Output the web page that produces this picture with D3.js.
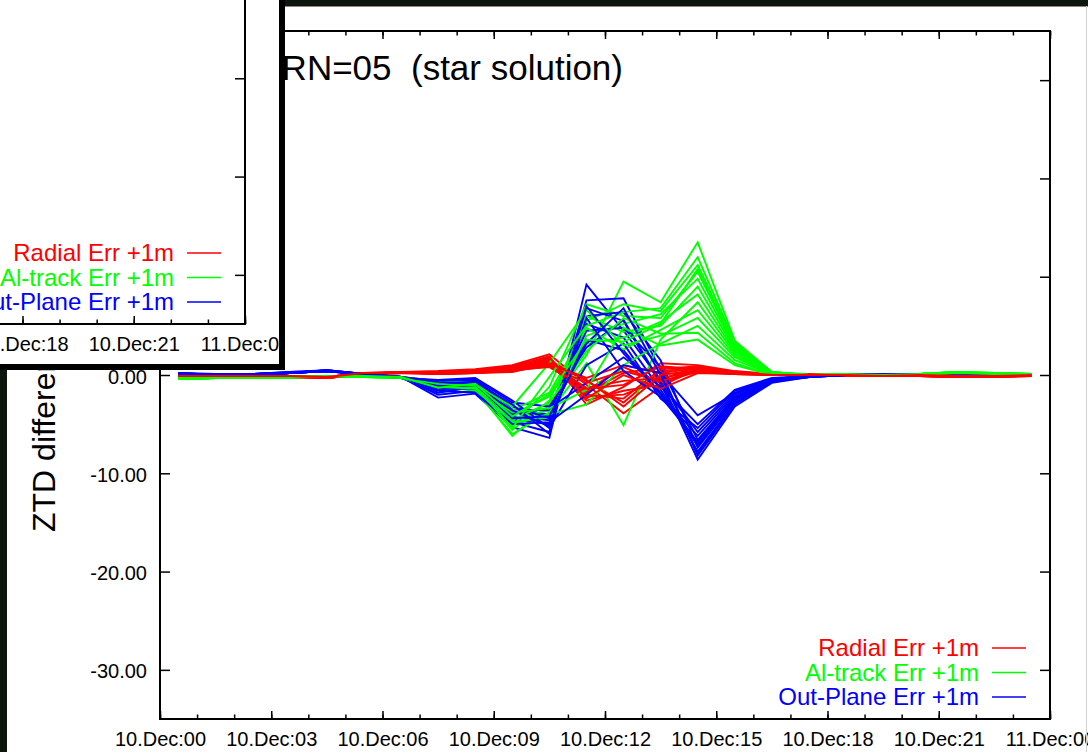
<!DOCTYPE html>
<html>
<head>
<meta charset="utf-8">
<script src="https://cdn.jsdelivr.net/npm/d3@7"></script>
<style>
  body { margin: 0; background: #fff; overflow: hidden; }
  svg { display: block; font-family: "Liberation Sans", Arial, sans-serif; }
</style>
</head>
<body>
<script>
// sample epochs (hours after 10.Dec 00:00)
const times = [0.5, 1.5, 2.5, 3.5, 4.5, 5.5, 6.5, 7.5, 8.5, 9.5, 10.5, 11.5,
               12.5, 13.5, 14.5, 15.5, 16.5, 17.5, 18.5, 19.5, 20.5, 21.5, 22.5, 23.5];

// axis ticks
const majorHours = [0, 3, 6, 9, 12, 15, 18, 21, 24];
const minorHours = [0, 1, 2, 3, 4, 5, 6, 7, 8, 9, 10, 11, 12, 13, 14, 15, 16, 17, 18, 19, 20, 21, 22, 23, 24];
const majorLabels = ['10.Dec:00', '10.Dec:03', '10.Dec:06', '10.Dec:09', '10.Dec:12',
                     '10.Dec:15', '10.Dec:18', '10.Dec:21', '11.Dec:00'];
const yTicks = [-30, -20, -10, 0, 10, 20, 30];

const legendLabels = ['Radial Err +1m', 'Al-track Err +1m', 'Out-Plane Err +1m'];
const legendColors = ['#ff0000', '#00ff00', '#0000ff'];

// ZTD differences, radial error runs
const radialRuns = [
  [-0.1,-0.1,-0.1,-0.2,-0.3,0.1,0.3, 0.4,0.6,1.0,2.1,-1.0,-3.9,-1.2,0.8,0.3,0.1, 0.0,0.0,-0.1,-0.1,-0.2,-0.2,-0.1],
  [-0.1,-0.1,-0.1,-0.1,-0.2,0.1,0.3, 0.3,0.5,0.9,1.9,-3.0,-1.2,1.2,1.0,0.4,0.1, 0.0,0.0,0.0,-0.1,-0.1,-0.1,-0.1],
  [0.0,-0.1,-0.1,-0.2,-0.3,0.1,0.2, 0.3,0.5,0.8,1.7,-2.2,-2.0,-0.5,0.9,0.3,0.1, 0.0,0.0,-0.1,-0.1,-0.2,-0.1,-0.1],
  [-0.1,-0.1,-0.1,-0.1,-0.2,0.2,0.3, 0.3,0.4,0.8,1.6,-1.6,0.8,-0.8,0.7,0.3,0.1, 0.1,0.0,0.0,0.0,-0.1,-0.1,0.0],
  [0.0,-0.1,-0.1,-0.2,-0.2,0.1,0.2, 0.2,0.4,0.7,1.5,-0.6,-2.8,0.4,0.8,0.2,0.0, 0.0,0.0,0.0,-0.1,-0.1,-0.2,-0.1],
  [-0.1,-0.2,-0.1,-0.1,-0.3,0.1,0.3, 0.2,0.4,0.7,1.4,-1.8,0.2,0.8,0.6,0.2,0.0, 0.0,0.0,-0.1,0.0,-0.1,-0.1,-0.1],
  [0.0,-0.1,-0.1,-0.2,-0.2,0.2,0.2, 0.2,0.3,0.6,1.3,-2.6,-1.6,-1.0,0.5,0.2,0.0, 0.0,-0.1,-0.1,-0.1,-0.2,-0.1,0.0],
  [-0.1,-0.1,-0.1,-0.1,-0.2,0.1,0.2, 0.2,0.3,0.6,1.2,-0.3,1.0,0.2,0.7,0.3,0.0, 0.0,0.0,0.0,0.0,-0.1,-0.1,-0.1],
  [0.0,-0.1,-0.1,-0.2,-0.3,0.1,0.3, 0.1,0.3,0.5,1.1,-1.3,-0.6,-0.3,0.4,0.1,0.0, 0.0,0.0,-0.1,-0.1,-0.1,-0.2,-0.1],
  [-0.1,-0.1,-0.2,-0.2,-0.2,0.1,0.2, 0.1,0.2,0.5,1.0,-2.0,-2.4,0.6,0.9,0.3,0.1, 0.0,0.0,0.0,-0.1,-0.2,-0.1,-0.1],
  [0.0,-0.1,-0.1,-0.1,-0.2,0.2,0.3, 0.1,0.2,0.4,0.9,-0.8,0.4,-0.6,0.3,0.1,0.0, 0.0,0.0,0.0,0.0,-0.1,-0.1,0.0],
  [-0.1,-0.1,-0.1,-0.2,-0.3,0.1,0.2, 0.2,0.3,0.5,0.8,-1.4,-1.0,0.9,0.6,0.2,0.0, 0.0,0.0,-0.1,-0.1,-0.1,-0.1,-0.1],
  [0.0,-0.1,-0.1,-0.2,-0.2,0.1,0.3, 0.3,0.4,0.6,1.8,-2.4,0.0,-1.4,0.2,0.1,0.0, 0.0,0.0,0.0,-0.1,-0.2,-0.2,-0.1],
  [-0.1,-0.1,-0.1,-0.1,-0.2,0.2,0.2, 0.1,0.2,0.3,1.2,-0.5,-3.2,0.0,0.5,0.2,0.0, 0.0,0.0,-0.1,0.0,-0.1,-0.1,0.0]
];

// along-track error runs
const alongRuns = [
  [-0.4,-0.3,-0.3,-0.2,-0.1,-0.1,-0.3, -1.5,-1.4,-6.2,-3.0,2.0,9.5,7.4,13.5,3.5,0.3, 0.0,0.0,0.1,0.1,0.3,0.2,0.1],
  [-0.3,-0.3,-0.2,-0.2,-0.1,-0.1,-0.2, -1.3,-1.2,-5.6,-2.6,5.5,7.2,6.5,11.2,3.2,0.3, 0.0,0.0,0.0,0.1,0.2,0.1,0.0],
  [-0.4,-0.3,-0.3,-0.2,-0.2,-0.1,-0.3, -1.2,-1.0,-5.2,-1.2,7.2,6.0,5.8,10.5,3.0,0.2, 0.1,0.0,0.1,0.1,0.3,0.2,0.1],
  [-0.3,-0.2,-0.2,-0.2,-0.1,-0.1,-0.2, -1.0,-1.5,-4.8,-4.3,4.0,5.2,6.2,9.8,2.8,0.2, 0.0,0.0,0.0,0.0,0.2,0.1,0.0],
  [-0.4,-0.3,-0.3,-0.3,-0.1,-0.2,-0.3, -0.9,-0.9,-4.4,-3.6,6.0,4.4,5.0,9.0,2.6,0.2, 0.0,0.1,0.1,0.1,0.2,0.2,0.1],
  [-0.3,-0.3,-0.2,-0.2,-0.1,-0.1,-0.2, -0.8,-1.2,-4.0,-2.2,3.2,3.8,5.4,8.2,2.4,0.2, 0.0,0.0,0.0,0.1,0.3,0.1,0.0],
  [-0.4,-0.3,-0.3,-0.2,-0.2,-0.1,-0.3, -1.1,-1.6,-6.0,-3.8,1.2,-5.1,3.6,7.4,2.2,0.1, 0.0,0.0,0.1,0.0,0.2,0.2,0.1],
  [-0.3,-0.2,-0.2,-0.2,-0.1,-0.1,-0.2, -0.7,-0.8,-3.6,-1.8,4.8,2.6,4.6,6.6,2.0,0.1, 0.0,0.0,0.0,0.1,0.2,0.1,0.0],
  [-0.4,-0.3,-0.3,-0.2,-0.1,-0.2,-0.3, -1.4,-1.1,-3.2,1.2,6.6,3.0,4.0,5.8,1.8,0.1, 0.0,0.0,0.1,0.1,0.3,0.2,0.1],
  [-0.3,-0.3,-0.2,-0.2,-0.1,-0.1,-0.2, -1.0,-1.3,-5.0,-4.0,-3.0,1.0,3.2,5.0,1.5,0.1, 0.0,0.0,0.0,0.0,0.2,0.1,0.0],
  [-0.4,-0.3,-0.3,-0.2,-0.2,-0.1,-0.3, -0.8,-1.0,-4.6,-2.8,2.4,5.8,4.2,4.3,1.2,0.0, 0.0,0.0,0.1,0.1,0.2,0.2,0.1],
  [-0.3,-0.2,-0.2,-0.2,-0.1,-0.1,-0.2, -1.2,-1.4,-3.8,-3.4,-1.5,4.8,3.0,3.6,1.0,0.0, 0.0,0.0,0.0,0.1,0.3,0.1,0.0],
  [-0.4,-0.3,-0.3,-0.3,-0.1,-0.2,-0.3, -0.9,-1.1,-5.4,-0.2,5.0,6.4,6.8,12.0,3.3,0.3, 0.0,0.1,0.1,0.1,0.2,0.2,0.1],
  [-0.3,-0.3,-0.2,-0.2,-0.1,-0.1,-0.2, -1.3,-0.9,-4.2,-2.0,3.6,3.4,5.2,10.8,2.9,0.2, 0.0,0.0,0.0,0.0,0.2,0.1,0.0]
];

// out-of-plane error runs
const outPlaneRuns = [
  [0.1,0.0,0.0,0.2,0.4,0.1,-0.2, -2.3,-1.9,-5.3,-6.4,9.2,4.5,-0.5,-8.6,-3.2,-0.8, -0.2,0.0,0.0,0.0,0.0,0.0,0.0],
  [0.1,0.0,0.1,0.2,0.4,0.1,-0.2, -2.0,-1.6,-4.8,-5.8,7.6,7.8,0.5,-8.2,-3.0,-0.7, -0.2,0.0,0.0,0.0,0.1,0.0,0.0],
  [0.2,0.1,0.0,0.2,0.5,0.1,-0.3, -1.8,-1.2,-4.5,-5.0,6.8,5.5,-1.0,-7.8,-2.8,-0.7, -0.1,0.0,0.1,0.0,0.0,0.0,0.0],
  [0.1,0.0,0.1,0.3,0.4,0.0,-0.2, -1.5,-1.0,-4.2,-4.6,6.0,6.4,1.5,-7.4,-2.6,-0.6, -0.1,0.0,0.0,0.1,0.0,0.1,0.0],
  [0.1,0.0,0.0,0.2,0.4,0.1,-0.2, -1.2,-0.8,-3.8,-4.0,5.2,3.8,-1.5,-7.0,-2.4,-0.6, -0.2,0.0,0.0,0.0,0.0,0.0,0.0],
  [0.2,0.0,0.1,0.2,0.5,0.1,-0.3, -1.0,-0.6,-3.5,-3.6,4.5,4.8,0.8,-6.6,-2.2,-0.5, -0.1,0.0,0.1,0.0,0.1,0.0,0.0],
  [0.1,0.1,0.0,0.2,0.4,0.1,-0.2, -0.8,-0.5,-3.2,-4.4,3.6,2.5,-2.0,-6.2,-2.0,-0.5, -0.1,0.0,0.0,0.0,0.0,0.0,0.0],
  [0.1,0.0,0.1,0.2,0.4,0.0,-0.2, -0.6,-0.4,-2.8,-3.2,2.8,5.6,-0.8,-5.8,-1.8,-0.4, -0.1,0.0,0.0,0.1,0.0,0.1,0.0],
  [0.2,0.0,0.0,0.2,0.4,0.1,-0.3, -0.5,-0.3,-2.6,-5.4,1.0,3.2,-2.4,-5.4,-1.6,-0.4, -0.1,0.0,0.0,0.0,0.0,0.0,0.0],
  [0.1,0.0,0.1,0.3,0.5,0.1,-0.2, -1.4,-1.4,-4.0,-3.4,-0.8,1.8,-1.2,-5.0,-1.5,-0.3, -0.1,0.0,0.1,0.0,0.1,0.0,0.0],
  [0.1,0.1,0.0,0.2,0.4,0.1,-0.2, -1.6,-1.8,-5.0,-4.8,-2.0,1.0,0.2,-4.1,-1.9,-0.5, -0.2,0.0,0.0,0.0,0.0,0.0,0.0],
  [0.2,0.0,0.1,0.2,0.4,0.0,-0.3, -0.9,-0.7,-3.0,-6.0,7.0,2.2,-1.8,-7.2,-2.5,-0.6, -0.1,0.0,0.0,0.1,0.0,0.0,0.0],
  [0.1,0.0,0.0,0.2,0.5,0.1,-0.2, -1.1,-1.1,-3.6,-5.2,5.8,0.4,-2.2,-6.8,-2.3,-0.6, -0.2,0.0,0.0,0.0,0.0,0.1,0.0],
  [0.1,0.0,0.1,0.2,0.4,0.1,-0.2, -0.7,-0.9,-4.4,-4.2,3.2,6.8,0.0,-8.0,-2.9,-0.7, -0.1,0.0,0.1,0.0,0.0,0.0,0.0]
];

const width = 1088;
const height = 752;
const plot = { left: 160, right: 1050, top: 31, bottom: 719 };

const xScale = d3.scaleLinear().domain([0, 24]).range([plot.left, plot.right]);
const yScale = d3.scaleLinear().domain([-35, 35]).range([plot.bottom, plot.top]);

const line = d3.line()
  .x((d, i) => xScale(times[i]))
  .y(d => yScale(d));

// drawChart draws one full copy of the plot into the given group
const drawChart = g => {
  g.append('rect')
    .attr('x', -2000).attr('y', -2000)
    .attr('width', 5000).attr('height', 5000)
    .attr('fill', '#fff');

  // error runs, interleaved the way the groups overlap
  const runs = g.append('g').attr('fill', 'none').attr('stroke-width', 1.9)
    .attr('stroke-linejoin', 'miter');
  for (let i = 0; i < radialRuns.length; i++) {
    runs.append('path').attr('d', line(outPlaneRuns[i])).attr('stroke', legendColors[2]);
    runs.append('path').attr('d', line(alongRuns[i])).attr('stroke', legendColors[1]);
    runs.append('path').attr('d', line(radialRuns[i])).attr('stroke', legendColors[0]);
  }

  // axes with inward ticks; plain hyphen for the minus sign
  const fmt = d => d.toFixed(2);
  const axes = [
    g.append('g').attr('transform', `translate(0,${plot.bottom})`)
      .call(d3.axisBottom(xScale).tickValues(minorHours).tickSize(-4.5).tickFormat('')),
    g.append('g').attr('transform', `translate(0,${plot.bottom})`)
      .call(d3.axisBottom(xScale).tickValues(majorHours).tickSize(-8).tickPadding(13)
        .tickFormat((d, i) => majorLabels[i])),
    g.append('g').attr('transform', `translate(0,${plot.top})`)
      .call(d3.axisTop(xScale).tickValues(minorHours).tickSize(-4.5).tickFormat('')),
    g.append('g').attr('transform', `translate(0,${plot.top})`)
      .call(d3.axisTop(xScale).tickValues(majorHours).tickSize(-8).tickFormat('')),
    g.append('g').attr('transform', `translate(${plot.left},0)`)
      .call(d3.axisLeft(yScale).tickValues(yTicks).tickSize(-10).tickPadding(13).tickFormat(fmt)),
    g.append('g').attr('transform', `translate(${plot.right},0)`)
      .call(d3.axisRight(yScale).tickValues(yTicks).tickSize(-10).tickFormat(''))
  ];
  axes.forEach(a => {
    a.select('.domain').remove();
    a.selectAll('line').attr('stroke', '#000').attr('stroke-width', 1.5);
    a.selectAll('text').attr('fill', '#000').style('font-size', '20px')
      .style('font-family', '"Liberation Sans", Arial, sans-serif');
  });
  axes[4].selectAll('text').attr('dy', '0.4em');

  g.append('rect')
    .attr('x', plot.left).attr('y', plot.top)
    .attr('width', plot.right - plot.left).attr('height', plot.bottom - plot.top)
    .attr('fill', 'none').attr('stroke', '#000').attr('stroke-width', 2);

  // title and y label
  g.append('text')
    .attr('x', 623).attr('y', 80)
    .attr('text-anchor', 'end')
    .style('white-space', 'pre')
    .style('font-size', '35px')
    .text('GPS PRN=05  (star solution)');

  g.append('text')
    .attr('transform', 'translate(55,532) rotate(-90)')
    .style('font-size', '32px')
    .text('ZTD difference (mm)');

  // legend
  const legend = g.append('g');
  legendLabels.forEach((lab, i) => {
    const yy = 648 + i * 24.5;
    legend.append('text')
      .attr('x', 979).attr('y', yy + 8)
      .attr('text-anchor', 'end')
      .attr('fill', legendColors[i])
      .style('font-size', '24px')
      .text(lab);
    legend.append('line')
      .attr('x1', 992).attr('x2', 1026)
      .attr('y1', yy).attr('y2', yy)
      .attr('stroke', legendColors[i]).attr('stroke-width', 1.6);
  });
};

const svg = d3.select('body').append('svg')
  .attr('width', width).attr('height', height);

// main window
const mainG = svg.append('g');
drawChart(mainG);
svg.append('rect')
  .attr('x', 3.5).attr('y', 3)
  .attr('width', 3000).attr('height', 3000)
  .attr('fill', 'none').attr('stroke', '#0c160c').attr('stroke-width', 7);
svg.append('line')
  .attr('x1', 1086.5).attr('x2', 1086.5).attr('y1', 6).attr('y2', height)
  .attr('stroke', '#d0d0d0').attr('stroke-width', 1);

// second window lying over the top-left corner, showing the same plot shifted
svg.append('clipPath').attr('id', 'overlay-clip')
  .append('rect').attr('x', 0).attr('y', 0).attr('width', 279).attr('height', 364);
const overlay = svg.append('g').attr('clip-path', 'url(#overlay-clip)');
drawChart(overlay.append('g').attr('transform', 'translate(-805,-395)'));
svg.append('rect')
  .attr('x', -10).attr('y', -10)
  .attr('width', 292).attr('height', 377)
  .attr('fill', 'none').attr('stroke', '#000').attr('stroke-width', 6);
</script>
</body>
</html>
